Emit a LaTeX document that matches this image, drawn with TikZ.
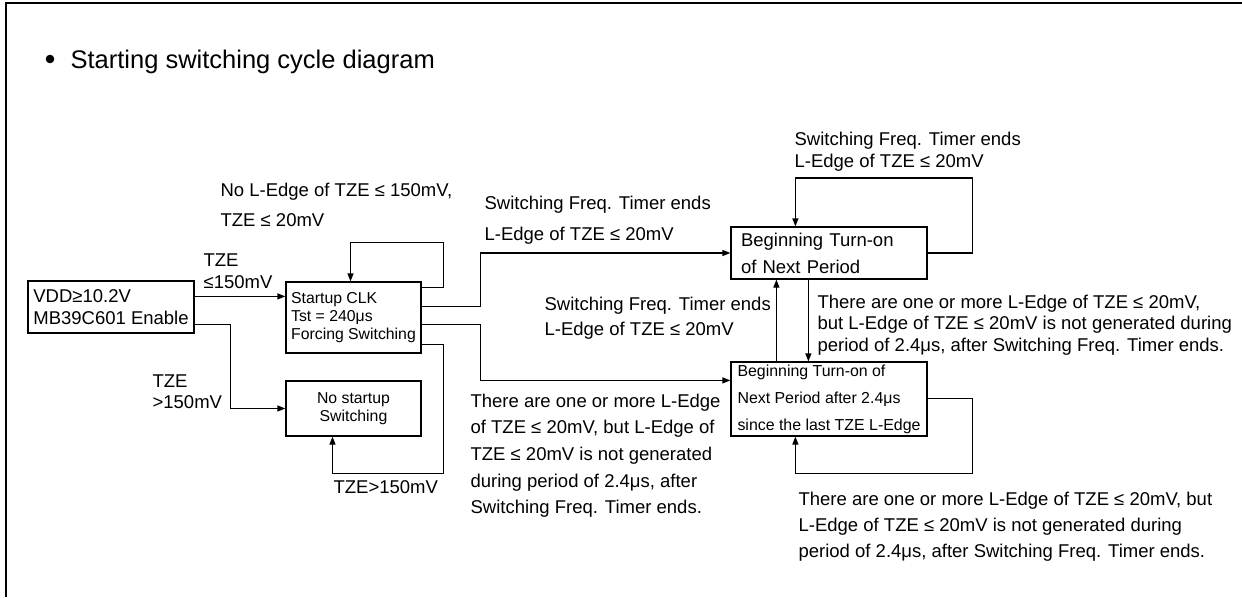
\documentclass[tikz,border=0pt]{standalone}
\usepackage{fontspec}
\setmainfont{Liberation Sans}
\usetikzlibrary{arrows.meta,calc}
\begin{document}
\begin{tikzpicture}[x=1pt,y=-1pt,
  line width=1.2pt,
  arr/.style={-{Triangle[length=8pt,width=6pt]}},
  box/.style={draw, inner sep=0pt, line width=1.2pt},
  lab/.style={anchor=base west, align=left, inner sep=0pt, font=\fontsize{18.5}{22}\selectfont},
  bigtxt/.style={font=\fontsize{18.5}{22}\selectfont},
  smalltxt/.style={font=\fontsize{15.8}{18}\selectfont}
]
\useasboundingbox (0,0) rectangle (1242,597);
\draw[line width=2.5pt] (6,597) -- (6,3) -- (1242,3);
\fill (50,59) circle (4.3);
\node[anchor=base west, inner sep=0pt, font=\fontsize{25.5}{30}\selectfont] (title) at (70,68) {Starting switching cycle diagram};

% boxes
\node[box, bigtxt, align=left, minimum width=166, minimum height=52] (A) at (111,307) {VDD≥10.2V\\MB39C601 Enable};
\node[box, smalltxt, align=left, minimum width=135, minimum height=71] (B) at (353.5,317.5) {Startup CLK\\Tst = 240μs\\Forcing Switching};
\node[box, smalltxt, align=center, minimum width=135, minimum height=55] (C) at (353.5,408.5) {No startup\\Switching};
\node[box, font=\fontsize{18.5}{27}\selectfont, align=left, text width=176, minimum width=196, minimum height=52] (D) at (829,253) {Beginning Turn-on\\of Next Period};
\node[box, font=\fontsize{15.9}{27}\selectfont, align=left, minimum width=196, minimum height=74] (E) at (829,399) {Beginning Turn-on of\\Next Period after 2.4μs\\since the last TZE L-Edge};

% connectors
\draw[arr] ($(A.north east)+(0,16)$) coordinate (a1) -- (a1 -| B.west);
\draw[arr] ($(A.north east)+(0,44)$) -| ($(C.west)+(-55,0)$) -- (C.west);
\draw[arr] ($(B.north east)+(0,6)$) -- ++(22,0) -- ++(0,-45) -| ($(B.north)+(-3,0)$);
\draw[arr] ($(B.south east)+(0,-9)$) -- ++(22,0) |- ($(C.south)+(-21,37)$) -- ($(C.south)+(-21,0)$);
\draw[arr] ($(B.north east)+(0,25)$) -- ++(59,0) |- (D.west);
\draw[arr] ($(B.north east)+(0,43)$) -- ++(59,0) |- ($(E.north west)+(0,19)$);
\draw[arr] (D.east) -- ++(45,0) -- ++(0,-75) -| ($(D.north west)+(65,0)$);
\draw[arr] ($(E.north west)+(46,0)$) -- ($(D.south west)+(46,0)$);
\draw[arr] ($(D.south west)+(78,0)$) -- ($(E.north west)+(78,0)$);
\draw[arr] ($(E.north east)+(0,37)$) -- ++(45,0) |- ($(E.south west)+(65,37)$) -- ($(E.south west)+(65,0)$);

% labels (anchor = baseline of the last line)
\node[lab, font=\fontsize{18.5}{30}\selectfont] (l1) at (220,226) {No L-Edge of TZE ≤ 150mV,\\TZE ≤ 20mV};
\node[lab] (l2) at (203,288) {TZE\\≤150mV};
\node[lab, font=\fontsize{18.5}{21}\selectfont] (l3) at (152,408) {TZE\\>150mV};
\node[lab] (l4) at (333,493) {TZE>150mV};
\node[lab, font=\fontsize{18.5}{31}\selectfont] (l5) at (484,240) {Switching Freq. Timer ends\\L-Edge of TZE ≤ 20mV};
\node[lab, font=\fontsize{18.5}{25.5}\selectfont] (l6) at (544,335.5) {Switching Freq. Timer ends\\L-Edge of TZE ≤ 20mV};
\node[lab, font=\fontsize{18.5}{26.7}\selectfont] (l7) at (470,513.8) {There are one or more L-Edge\\of TZE ≤ 20mV, but L-Edge of\\TZE ≤ 20mV is not generated\\during period of 2.4μs, after\\Switching Freq. Timer ends.};
\node[lab] (l8) at (794,167) {Switching Freq. Timer ends\\L-Edge of TZE ≤ 20mV};
\node[lab, font=\fontsize{18.5}{21.5}\selectfont] (l9) at (817,351) {There are one or more L-Edge of TZE ≤ 20mV,\\but L-Edge of TZE ≤ 20mV is not generated during\\period of 2.4μs, after Switching Freq. Timer ends.};
\node[lab, font=\fontsize{18.5}{26}\selectfont] (l10) at (798,557) {There are one or more L-Edge of TZE ≤ 20mV, but\\L-Edge of TZE ≤ 20mV is not generated during\\period of 2.4μs, after Switching Freq. Timer ends.};
\end{tikzpicture}
\end{document}
